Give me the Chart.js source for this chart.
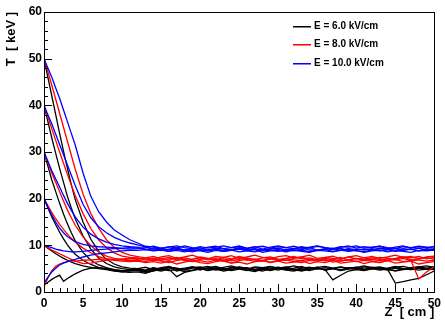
<!DOCTYPE html>
<html><head><meta charset="utf-8">
<script src="https://cdn.jsdelivr.net/npm/chart.js@4.4.1/dist/chart.umd.min.js"></script>
<style>html,body{margin:0;padding:0;background:#fff}canvas{display:block}</style>
</head><body>
<canvas id="c" width="445" height="320"></canvas>
<script>
// Z positions (cm) at which every curve is sampled
const zGrid = [0,0.5,1,1.5,2,2.5,3,3.5,4,5,6,7,8,9,10,11,
  12,13,14,15,16,17,18,19,20,21,
  22,23,24,25,26,27,28,29,30,31,
  32,33,34,35,36,37,38,39,40,41,
  42,43,44,45,46,47,48,49,50];

// E = 6.0 kV/cm (black), T in keV
const e6_T50 = [50,46,42,38,34,30.2,26.5,23,19.8,15,11.3,8.7,7.0,6.0,5.4,5.1,
  5.0,5.3,4.8,5.2,5.5,4.9,5.1,5.4,4.7,5.2,
  5.5,5.0,4.8,5.3,5.1,4.6,5.0,5.4,5.2,4.8,
  5.1,5.5,4.9,5.2,4.7,5.0,5.3,5.1,4.8,5.4,
  5.2,4.9,5.1,5.5,5.0,4.8,5.3,5.1,5.4];
const e6_T40 = [40,36.5,33,29.7,26.5,23.5,20.5,18,15.7,12,9.2,7.3,6.1,5.4,5.0,4.8,
  4.9,4.6,5.1,4.8,5.2,4.5,4.9,5.3,5.0,4.7,
  5.1,4.8,5.3,4.9,4.6,5.2,5.0,4.7,5.1,5.4,
  4.9,4.6,5.0,5.3,4.8,5.1,4.7,5.2,5.0,4.8,
  5.3,5.0,4.7,5.1,4.9,5.2,5.4,5.0,5.2];
const e6_T30 = [30,27,24,21.5,19,16.7,14.6,12.7,11,8.5,6.8,5.8,5.2,4.8,4.6,4.5,
  4.7,4.4,4.8,4.5,4.9,3.3,4.2,4.6,4.9,5.1,
  4.7,5.0,4.6,4.9,5.2,4.8,4.5,5.0,4.7,5.1,
  4.8,4.5,4.9,5.2,4.7,5.0,4.6,4.9,5.1,4.7,
  4.9,5.2,4.8,4.6,5.0,4.8,5.1,4.9,5.0];
const e6_T20 = [20,18,16.1,14.4,12.8,11.4,10.1,9,8.1,6.8,5.9,5.3,4.9,4.6,4.3,4.2,
  4.3,4.0,4.6,5.0,5.3,5.1,4.8,5.4,5.2,5.5,
  5.0,5.3,5.6,5.1,4.9,5.4,5.2,5.5,5.0,5.3,
  5.6,5.2,4.9,5.3,5.5,5.1,5.4,5.0,5.3,5.6,
  5.2,5.4,5.0,5.3,5.5,5.1,5.4,5.6,5.3];
const e6_T10 = [10,9.4,8.8,8.2,7.7,7.2,6.8,6.4,6.1,5.6,5.3,5.0,4.8,4.5,4.3,4.6,
  4.6,4.2,4.5,4.9,4.6,4.8,4.4,4.7,5.0,4.6,
  4.9,4.5,4.8,5.1,4.7,4.4,4.9,4.6,5.0,4.7,
  4.5,4.9,4.6,5.0,4.8,2.6,3.6,4.5,4.8,4.6,
  5.0,4.7,4.9,4.5,4.8,5.0,4.7,4.9,4.8];
const e6_T0 = [1.5,2.1,2.7,3.2,3.6,2.3,2.9,3.4,3.9,4.7,5.1,5.2,5.0,4.8,4.5,4.7,
  5.0,4.7,5.2,4.9,5.3,5.0,4.7,5.1,5.4,4.9,
  5.2,4.8,5.1,5.4,5.0,4.7,5.2,4.9,5.3,5.0,
  4.8,5.1,5.3,4.9,5.2,5.0,4.7,5.1,5.3,4.9,
  5.2,5.0,4.9,1.9,2.2,2.6,2.9,3.7,4.5];

// E = 8.0 kV/cm (red)
const e8_T50 = [50,47.2,44.3,41.3,38.3,35.3,32.3,29.3,26.3,21,16.8,13.7,11.2,9.6,8.5,7.9,
  7.6,7.3,7.0,7.5,7.8,7.2,7.5,7.9,7.3,7.1,
  7.6,7.4,7.8,7.2,7.5,7.9,7.4,7.1,7.6,7.8,
  7.3,7.5,7.9,7.2,7.4,7.7,7.1,7.5,7.8,7.3,
  7.6,7.2,7.5,7.9,7.4,7.6,7.1,7.5,7.7];
const e8_T40 = [40,37.5,35,32.5,30,27.6,25.2,22.9,20.7,16.8,13.6,11.2,9.5,8.4,7.7,7.4,
  7.3,6.9,7.2,6.8,7.1,7.4,6.7,7.0,7.3,6.9,
  7.2,6.6,7.0,7.4,6.8,7.1,6.7,7.3,7.0,6.8,
  7.2,7.5,6.9,7.1,6.7,7.0,7.4,6.8,7.2,6.9,
  7.3,7.0,6.7,7.2,7.5,6.9,7.1,7.4,7.0];
const e8_T30 = [30,27.7,25.5,23.5,21.5,19.5,17.6,15.9,14.3,11.8,9.9,8.6,7.7,7.2,6.9,6.7,
  6.8,6.5,6.9,6.6,6.3,6.8,7.0,6.5,6.7,6.4,
  6.9,6.6,6.2,6.7,7.0,6.5,6.8,6.4,6.7,6.9,
  6.5,6.3,6.8,6.6,7.0,6.4,6.7,6.9,6.5,6.8,
  6.6,6.3,6.8,7.0,6.5,6.7,6.9,6.6,6.8];
const e8_T20 = [20,18.5,17,15.7,14.5,13.4,12.4,11.5,10.7,9.4,8.4,7.6,7.1,6.8,6.6,6.5,
  6.6,6.3,6.5,6.2,6.6,6.0,6.4,6.7,6.3,6.1,
  6.5,6.8,6.2,6.4,6.0,6.5,6.7,6.3,6.6,6.2,
  6.4,6.7,6.1,6.5,6.3,6.8,6.2,6.4,6.6,6.1,
  6.5,6.3,6.7,6.2,6.4,6.6,6.0,6.3,6.5];
const e8_T10 = [10,9.5,9.0,8.6,8.2,7.8,7.4,7.0,6.6,6.1,6.2,6.5,6.8,7.0,7.1,7.2,
  7.0,7.3,7.6,7.1,7.4,6.9,7.3,7.0,7.5,7.2,
  6.9,7.4,7.1,7.6,7.2,6.9,7.3,7.5,7.0,7.2,
  7.6,7.1,7.3,6.9,7.4,7.2,7.0,7.5,7.1,7.3,
  6.9,7.4,7.2,7.0,7.5,7.3,7.6,7.1,7.4];
const e8_T0 = [1.2,3.0,4.6,5.5,6.0,6.3,6.5,6.6,6.6,6.8,6.9,7.0,7.1,7.0,6.9,7.1,
  7.2,7.0,6.7,7.1,6.8,7.3,6.9,6.6,7.0,7.2,
  6.8,7.1,6.7,7.0,7.3,6.9,6.6,7.1,6.8,7.2,
  6.9,6.7,7.1,6.8,7.2,7.0,6.6,6.9,7.2,6.8,
  7.0,6.7,7.1,6.9,7.2,6.8,2.8,4.3,5.4];

// E = 10.0 kV/cm (blue)
const e10_T50 = [50,48,46,43.7,41.5,39,36.5,34,31.5,25.5,20.5,17.2,15.0,13.3,12.2,11.2,
  10.5,9.8,9.6,9.3,9.7,9.4,9.9,9.5,9.2,9.6,
  9.8,9.3,9.5,9.9,9.4,9.7,9.2,9.6,9.9,9.5,
  9.3,9.7,9.4,9.8,9.5,9.2,9.6,9.9,9.4,9.7,
  9.5,9.8,9.3,9.6,9.9,9.4,9.7,9.5,9.8];
const e10_T40 = [40,38,36,33.8,31.6,29.4,27.2,25,22.8,18.8,15.9,14,12.7,11.7,11,10.5,
  10.1,9.6,9.2,9.4,9.0,9.3,8.9,9.2,9.5,9.0,
  9.3,8.8,9.1,9.4,9.0,9.2,8.9,9.3,9.1,8.8,
  9.2,9.5,9.0,8.9,9.3,9.1,9.4,8.8,9.2,9.0,
  9.3,8.9,9.1,9.4,9.0,9.2,8.8,9.3,9.1];
const e10_T30 = [30,28,26,24.2,22.5,20.7,19,17.5,16.1,13.9,12.4,11.4,10.7,10.2,9.9,9.7,
  9.6,9.2,8.9,9.1,8.7,8.9,8.6,9.0,8.8,8.5,
  8.9,8.7,9.0,8.6,8.8,9.1,8.5,8.8,8.9,8.6,
  9.0,8.7,8.5,8.9,8.8,8.6,9.0,8.7,8.9,8.5,
  8.8,9.0,8.6,8.9,8.7,8.5,8.9,8.8,9.0];
const e10_T20 = [20,18.2,16.5,15,13.7,12.7,11.9,11.3,10.8,10.2,9.9,9.7,9.6,9.5,9.4,9.5,
  9.4,9.1,9.3,8.9,9.2,9.5,9.0,9.3,9.1,8.9,
  9.4,9.2,9.0,9.5,9.1,9.3,8.9,9.2,9.4,9.0,
  9.3,9.1,9.5,9.0,9.2,9.4,8.9,9.3,9.1,9.2,
  9.0,9.4,9.2,8.9,9.3,9.1,9.4,9.0,9.2];
const e10_T10 = [10,9.8,9.5,9.2,9.0,8.8,8.7,8.6,8.6,8.7,8.9,9.1,9.2,9.3,9.3,9.2,
  9.3,9.5,9.8,9.4,9.6,9.9,9.5,9.3,9.7,9.4,
  9.6,9.9,9.5,9.7,9.3,9.6,9.8,9.4,9.7,9.5,
  9.8,9.4,9.6,9.9,9.5,9.3,9.7,9.6,9.9,9.4,
  9.6,9.8,9.5,9.3,9.7,9.5,9.8,9.6,9.4];
const e10_T0 = [1.9,3.2,4.3,5.1,5.8,6.2,6.5,6.8,7.0,7.5,7.9,8.2,8.4,8.6,8.8,8.9,
  8.9,9.1,8.8,9.0,8.7,9.2,8.9,8.6,9.0,8.8,
  9.1,8.7,8.9,9.2,8.8,8.6,9.0,8.9,8.7,9.1,
  8.8,9.0,8.6,8.9,9.1,8.7,8.9,9.2,8.8,8.6,
  9.0,8.8,9.1,8.7,8.9,9.2,8.8,9.0,8.9];

const seriesLabels = ['E = 6.0 kV/cm', 'E = 8.0 kV/cm', 'E = 10.0 kV/cm'];
const seriesColors = ['#000000', '#ff0000', '#0000ff'];
const groups = [
  [e6_T50, e6_T40, e6_T30, e6_T20, e6_T10, e6_T0],
  [e8_T50, e8_T40, e8_T30, e8_T20, e8_T10, e8_T0],
  [e10_T50, e10_T40, e10_T30, e10_T20, e10_T10, e10_T0]
];
const xTitle = 'Z  [ cm ]';
const yTitle = 'T  [ keV ]';

const FONT = '"Liberation Sans", Arial, Helvetica, sans-serif';

const datasets = [];
groups.forEach((curves, g) => curves.forEach(arr => datasets.push({
  label: seriesLabels[g],
  data: zGrid.map((z, i) => ({x: z, y: arr[i]})),
  borderColor: seriesColors[g],
  backgroundColor: seriesColors[g],
  borderWidth: 1.3,
  pointRadius: 0,
  tension: 0,
  fill: false,
  order: 2 - g
})));

const framePlugin = {
  id: 'frame',
  afterDraw(chart) {
    const {ctx, chartArea: a, scales: {x, y}} = chart;
    ctx.save();
    ctx.strokeStyle = '#000';
    ctx.lineWidth = 1;
    ctx.beginPath();
    for (let v = 0; v <= 50; v += 1) {
      const px = Math.round(x.getPixelForValue(v)) + 0.5;
      const len = v % 5 === 0 ? 8 : 4;
      ctx.moveTo(px, a.bottom);
      ctx.lineTo(px, a.bottom - len);
    }
    for (let v = 0; v <= 60; v += 2) {
      const py = Math.round(y.getPixelForValue(v)) + 0.5;
      const len = v % 10 === 0 ? 8 : 4;
      ctx.moveTo(a.left, py);
      ctx.lineTo(a.left + len, py);
    }
    ctx.stroke();
    ctx.strokeRect(Math.round(a.left) + 0.5, Math.round(a.top) + 0.5,
      Math.round(a.right - a.left), Math.round(a.bottom - a.top));
    // legend
    ctx.font = 'bold 10px ' + FONT;
    ctx.textBaseline = 'middle';
    ctx.textAlign = 'left';
    const rows = [26, 44, 63];
    seriesLabels.forEach((lab, i) => {
      ctx.fillStyle = seriesColors[i];
      ctx.fillRect(293, rows[i], 18, 1.5);
      ctx.fillStyle = '#000';
      ctx.fillText(lab, 314, rows[i] + 0.5);
    });
    ctx.restore();
  }
};

new Chart(document.getElementById('c'), {
  type: 'line',
  data: {datasets},
  options: {
    responsive: false,
    animation: false,
    events: [],
    layout: {padding: {top: 12, right: 9, left: 0, bottom: 0}},
    plugins: {legend: {display: false}, tooltip: {enabled: false}},
    scales: {
      x: {
        type: 'linear', min: 0, max: 50,
        grid: {display: false, drawTicks: false},
        border: {display: false},
        ticks: {stepSize: 5, autoSkip: false, maxRotation: 0, padding: 4, color: '#000',
          font: {family: FONT, size: 12, weight: 'bold'}},
        title: {display: true, text: xTitle, align: 'end', color: '#000', padding: 0,
          font: {family: FONT, size: 13, weight: 'bold'}},
        afterFit(s) { s.height = 28; }
      },
      y: {
        type: 'linear', min: 0, max: 60,
        grid: {display: false, drawTicks: false},
        border: {display: false},
        ticks: {stepSize: 10, autoSkip: false, padding: 2, color: '#000',
          font: {family: FONT, size: 12, weight: 'bold'}},
        title: {display: true, text: yTitle, align: 'end', color: '#000', padding: {top: 4, bottom: 0},
          font: {family: FONT, size: 13, weight: 'bold'}},
        afterFit(s) { s.width = 44; }
      }
    }
  },
  plugins: [framePlugin]
});
</script>
</body></html>
